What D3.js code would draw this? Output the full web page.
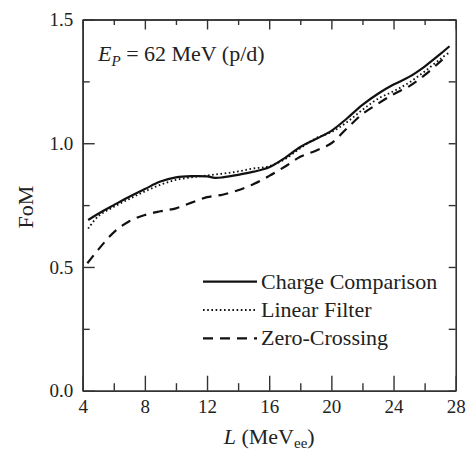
<!DOCTYPE html>
<html>
<head>
<meta charset="utf-8">
<script src="https://cdn.jsdelivr.net/npm/d3@7"></script>
<style>
  html, body { margin: 0; padding: 0; background: #fff; }
  svg { display: block; }
  svg text { font-family: "Liberation Serif", "Times New Roman", Times, "DejaVu Serif", serif !important; fill: #222; }
</style>
</head>
<body>
<svg id="chart" width="470" height="450"></svg>
<script>
// ---------- data ----------
const seriesNames = ["Charge Comparison", "Linear Filter", "Zero-Crossing"];
const chargeL   = [4.35, 5, 6, 7, 8, 9, 10, 11, 12, 12.5, 13, 14, 15, 16, 17, 18, 19, 20, 21, 22, 23, 24, 25, 26, 27, 27.6];
const chargeFoM = [0.69, 0.715, 0.75, 0.784, 0.815, 0.845, 0.862, 0.867, 0.866, 0.86, 0.862, 0.872, 0.885, 0.903, 0.94, 0.985, 1.017, 1.05, 1.10, 1.155, 1.20, 1.237, 1.268, 1.31, 1.36, 1.392];
const linearL   = [4.35, 5, 6, 7, 8, 9, 10, 11, 12, 13, 14, 15, 16, 17, 18, 19, 20, 21, 22, 23, 24, 25, 26, 27, 27.6];
const linearFoM = [0.655, 0.705, 0.743, 0.775, 0.805, 0.832, 0.852, 0.862, 0.87, 0.877, 0.886, 0.898, 0.907, 0.935, 0.98, 1.02, 1.045, 1.085, 1.135, 1.18, 1.21, 1.245, 1.29, 1.34, 1.368];
const zeroL     = [4.3, 5, 6, 7, 8, 9, 10, 11, 12, 13, 14, 15, 16, 17, 18, 19, 20, 21, 22, 23, 24, 25, 26, 27, 27.5];
const zeroFoM   = [0.515, 0.57, 0.64, 0.685, 0.71, 0.725, 0.737, 0.76, 0.782, 0.792, 0.81, 0.835, 0.868, 0.905, 0.945, 0.97, 1.0, 1.06, 1.118, 1.16, 1.198, 1.23, 1.275, 1.33, 1.36];
const xMajorTicks = [4, 8, 12, 16, 20, 24, 28];
const xMinorTicks = [6, 10, 14, 18, 22, 26];
const yMajorTicks = [0.0, 0.5, 1.0, 1.5];
const yMinorTicks = [0.25, 0.75, 1.25];

// ---------- layout ----------
const svg = d3.select("#chart");
const L = 82.7, R = 455.7, T = 19.5, B = 390.7;
const x = d3.scaleLinear().domain([4, 28]).range([L, R]);
const y = d3.scaleLinear().domain([0, 1.5]).range([B, T]);
const axisColor = "#333";
const serif = "'Liberation Serif', 'Times New Roman', Times, 'DejaVu Serif', serif";

// ---------- curves ----------
const line = d3.line().x(d => x(d[0])).y(d => y(d[1])).curve(d3.curveCatmullRom.alpha(0.5));
const series = [
  { name: seriesNames[0], data: d3.zip(chargeL, chargeFoM), dash: null, width: 2.2 },
  { name: seriesNames[1], data: d3.zip(linearL, linearFoM), dash: "1.6,2.6", width: 1.8 },
  { name: seriesNames[2], data: d3.zip(zeroL, zeroFoM), dash: "10,7", width: 2.2 }
];
svg.append("g").selectAll("path").data(series).join("path")
  .attr("d", d => line(d.data))
  .attr("fill", "none")
  .attr("stroke", "#111")
  .attr("stroke-width", d => d.width)
  .attr("stroke-dasharray", d => d.dash);

// ---------- axes ----------
function noLabel() { return ""; }
svg.append("g").attr("transform", `translate(0,${B})`)
  .call(d3.axisBottom(x).tickValues(xMajorTicks).tickSizeInner(-15).tickSizeOuter(0).tickPadding(9).tickFormat(d3.format("d")));
svg.append("g").attr("transform", `translate(0,${B})`)
  .call(d3.axisBottom(x).tickValues(xMinorTicks).tickSizeInner(-7.5).tickSizeOuter(0).tickFormat(noLabel));
svg.append("g").attr("transform", `translate(0,${T})`)
  .call(d3.axisTop(x).tickValues(xMajorTicks).tickSizeInner(-10).tickSizeOuter(0).tickFormat(noLabel));
svg.append("g").attr("transform", `translate(0,${T})`)
  .call(d3.axisTop(x).tickValues(xMinorTicks).tickSizeInner(-5.5).tickSizeOuter(0).tickFormat(noLabel));
svg.append("g").attr("transform", `translate(${L},0)`)
  .call(d3.axisLeft(y).tickValues(yMajorTicks).tickSizeInner(-12).tickSizeOuter(0).tickPadding(9.5).tickFormat(d3.format(".1f")));
svg.append("g").attr("transform", `translate(${L},0)`)
  .call(d3.axisLeft(y).tickValues(yMinorTicks).tickSizeInner(-7).tickSizeOuter(0).tickFormat(noLabel));
svg.append("g").attr("transform", `translate(${R},0)`)
  .call(d3.axisRight(y).tickValues(yMajorTicks.concat(yMinorTicks)).tickSizeInner(-7).tickSizeOuter(0).tickFormat(noLabel));

svg.selectAll("g").attr("font-family", serif);
svg.selectAll(".domain").attr("stroke", axisColor).attr("stroke-width", 1.6);
svg.selectAll(".tick line").attr("stroke", axisColor).attr("stroke-width", 1.4);
svg.selectAll(".tick text").attr("font-size", 19).attr("fill", "#222");

// ---------- axis titles ----------
const xt = svg.append("text").attr("x", (L + R) / 2).attr("y", 444).attr("text-anchor", "middle").attr("font-size", 22).attr("font-family", serif);
xt.append("tspan").attr("font-style", "italic").text("L");
xt.append("tspan").text(" (MeV");
xt.append("tspan").attr("font-size", 15).attr("dy", 4).text("ee");
xt.append("tspan").attr("dy", -4).text(")");

svg.append("text").attr("transform", `translate(33,207) rotate(-90)`)
  .attr("text-anchor", "middle").attr("font-size", 22).attr("font-family", serif).text("FoM");

// ---------- annotation ----------
const ann = svg.append("text").attr("x", 98).attr("y", 61).attr("font-size", 22).attr("font-family", serif);
ann.append("tspan").attr("font-style", "italic").text("E");
ann.append("tspan").attr("font-style", "italic").attr("font-size", 15).attr("dy", 5).text("P");
ann.append("tspan").attr("dy", -5).text(" = 62 MeV (p/d)");

// ---------- legend ----------
const legend = svg.append("g").attr("font-family", serif);
series.forEach((s, i) => {
  const ly = 281.7 + i * 28.3;
  legend.append("line").attr("x1", 203).attr("x2", 257).attr("y1", ly).attr("y2", ly)
    .attr("stroke", "#111").attr("stroke-width", s.width).attr("stroke-dasharray", s.dash);
  legend.append("text").attr("x", 261).attr("y", ly + 7).attr("font-size", 22).text(s.name);
});
</script>
</body>
</html>
